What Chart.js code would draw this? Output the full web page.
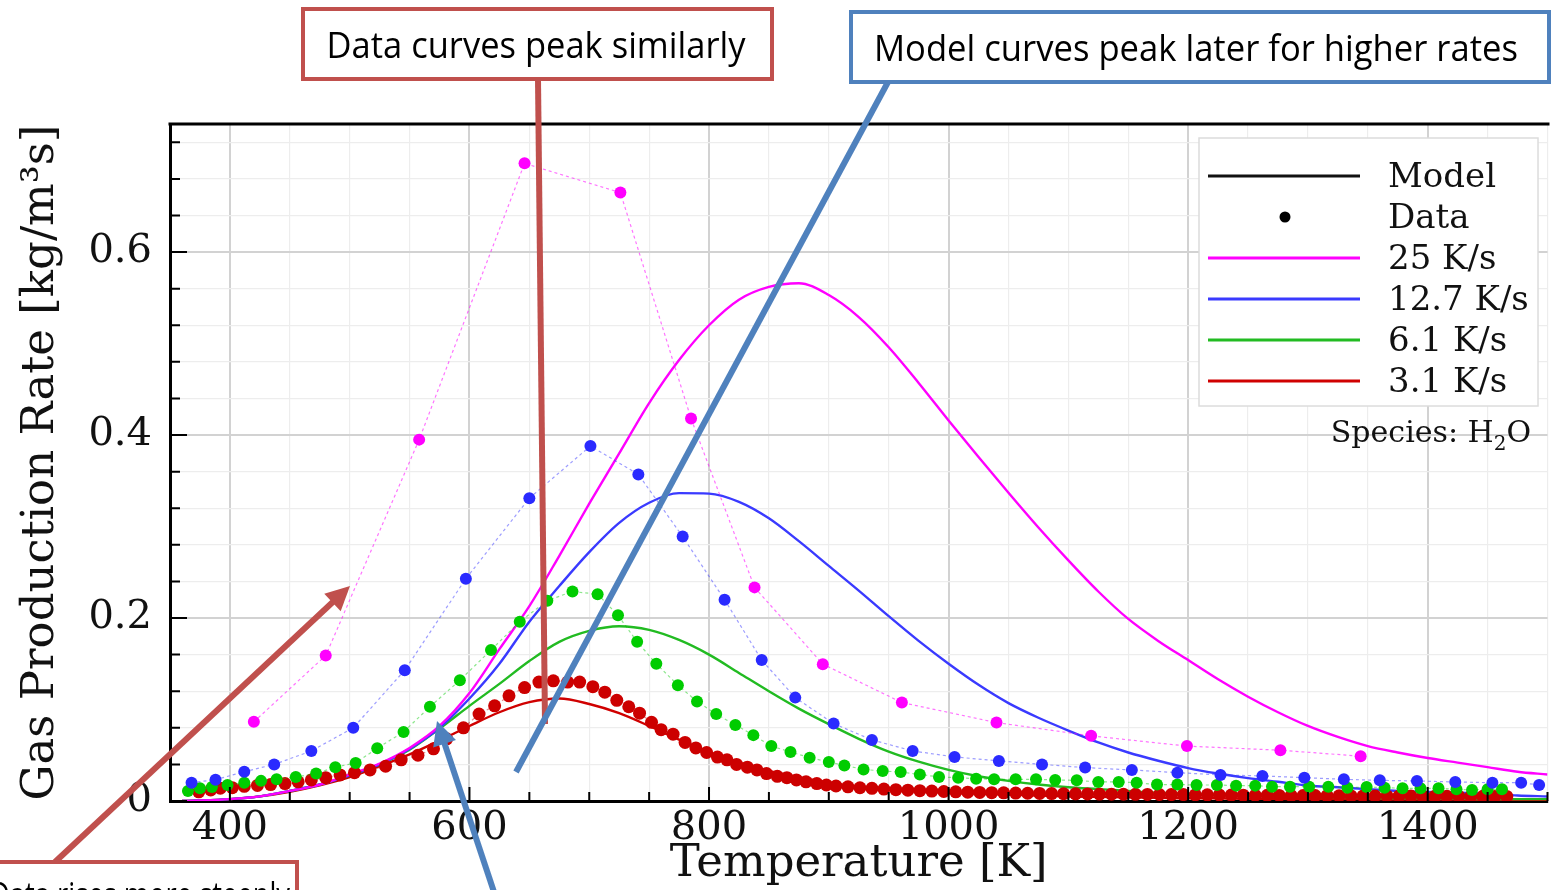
<!DOCTYPE html>
<html>
<head>
<meta charset="utf-8">
<script src="https://cdn.jsdelivr.net/npm/chart.js@4.4.1/dist/chart.umd.min.js"></script>
<style>
  html, body { margin: 0; padding: 0; background: #fff; overflow: hidden; }
  #wrap { position: absolute; left: 0; top: 0; width: 1554px; height: 890px; }
</style>
</head>
<body>
<div id="wrap"><canvas id="chartH2O" width="1554" height="890"></canvas></div>
<script>
// ---- axis ticks ----
const xTicks = [350, 400, 450, 500, 550, 600, 650, 700, 750, 800, 850, 900, 950, 1000,
  1050, 1100, 1150, 1200, 1250, 1300, 1350, 1400, 1450, 1500];
const yTicks = [0, 0.04, 0.08, 0.12, 0.16, 0.2, 0.24, 0.28, 0.32, 0.36, 0.4, 0.44, 0.48,
  0.52, 0.56, 0.6, 0.64, 0.68, 0.72];
const xLabels = { 400: '400', 600: '600', 800: '800', 1000: '1000', 1200: '1200', 1400: '1400' };
const yLabels = ['0', '0.2', '0.4', '0.6'];

// ---- model curves (solid) ----
const modelT = [360, 375, 400, 425, 450, 475, 500, 525, 550, 575, 600, 625, 650, 675, 700, 725,
  750, 775, 800, 825, 850, 875, 900, 925, 950, 975, 1000, 1025, 1050, 1075, 1100, 1125, 1150,
  1175, 1200, 1225, 1250, 1275, 1300, 1325, 1350, 1375, 1400, 1425, 1450, 1475, 1500];
const model25 = [0, 0.0005, 0.002, 0.005, 0.011, 0.018, 0.029, 0.041, 0.058, 0.082, 0.118, 0.166,
  0.213, 0.268, 0.325, 0.380, 0.435, 0.482, 0.520, 0.548, 0.562, 0.566, 0.553, 0.529, 0.496, 0.457,
  0.416, 0.376, 0.337, 0.299, 0.263, 0.229, 0.199, 0.175, 0.154, 0.133, 0.114, 0.097, 0.082, 0.070,
  0.060, 0.053, 0.047, 0.042, 0.037, 0.032, 0.029];
const model12 = [0, 0.0005, 0.002, 0.005, 0.011, 0.018, 0.028, 0.040, 0.057, 0.080, 0.112, 0.150,
  0.196, 0.235, 0.272, 0.304, 0.326, 0.3365, 0.3360, 0.327, 0.309, 0.284, 0.257, 0.230, 0.202, 0.175,
  0.150, 0.127, 0.107, 0.091, 0.077, 0.064, 0.053, 0.044, 0.036, 0.030, 0.025, 0.021, 0.017, 0.015,
  0.013, 0.011, 0.010, 0.009, 0.008, 0.006, 0.005];
const model6 = [0, 0.0005, 0.002, 0.005, 0.011, 0.018, 0.028, 0.040, 0.056, 0.079, 0.104, 0.128,
  0.153, 0.174, 0.186, 0.191, 0.187, 0.176, 0.160, 0.140, 0.120, 0.101, 0.084, 0.068, 0.054, 0.043,
  0.034, 0.027, 0.022, 0.018, 0.015, 0.013, 0.011, 0.009, 0.008, 0.007, 0.006, 0.005, 0.0045, 0.004,
  0.0035, 0.003, 0.003, 0.0025, 0.002, 0.002, 0.002];
const model3 = [0, 0.0005, 0.002, 0.005, 0.010, 0.017, 0.026, 0.038, 0.051, 0.066, 0.082, 0.097,
  0.108, 0.112, 0.106, 0.096, 0.082, 0.067, 0.053, 0.042, 0.033, 0.026, 0.020, 0.016, 0.013, 0.011,
  0.009, 0.008, 0.007, 0.006, 0.005, 0.0045, 0.004, 0.0035, 0.003, 0.003, 0.0025, 0.0025, 0.002,
  0.002, 0.002, 0.0015, 0.0015, 0.0015, 0.001, 0.001, 0.001];

// ---- measured data (dots) ----
const dataT25 = [420, 480, 558, 646, 726, 785, 838, 895, 961, 1040, 1119, 1199, 1277, 1344];
const dataV25 = [0.0865, 0.159, 0.395, 0.697, 0.665, 0.418, 0.2335, 0.1496, 0.1076, 0.0857, 0.0712,
  0.060, 0.0555, 0.049];

const dataT12 = [368, 388, 412, 437, 468, 503, 546, 597, 650, 701, 741, 778, 813, 844, 872, 904,
  936, 970, 1005, 1042, 1078, 1114, 1153, 1191, 1227, 1262, 1297, 1330, 1360, 1391, 1423, 1454,
  1478, 1493];
const dataV12 = [0.020, 0.0233, 0.032, 0.040, 0.0547, 0.080, 0.143, 0.243, 0.331, 0.388, 0.357,
  0.289, 0.220, 0.154, 0.113, 0.0846, 0.0668, 0.0547, 0.0482, 0.0438, 0.040, 0.0365, 0.0339, 0.031,
  0.0285, 0.0274, 0.0255, 0.0237, 0.0226, 0.0219, 0.0208, 0.020, 0.020, 0.0175];

const dataT6 = [365, 375, 385, 398, 412, 426, 439, 455, 472, 488, 505, 523, 545, 567, 592, 618,
  642, 665, 686, 707, 724, 740, 756, 774, 790, 806, 822, 837, 852, 868, 884, 900, 913, 929, 945,
  960, 976, 992, 1008, 1023, 1038, 1056, 1073, 1089, 1107, 1125, 1142, 1157, 1174, 1191, 1207, 1224,
  1240, 1256, 1270, 1285, 1301, 1317, 1333, 1349, 1364, 1379, 1394, 1409, 1424, 1437, 1450, 1462];
const dataV6 = [0.011, 0.014, 0.0153, 0.0175, 0.020, 0.022, 0.0237, 0.0263, 0.030, 0.037, 0.0416,
  0.0577, 0.0755, 0.103, 0.132, 0.165, 0.196, 0.219, 0.229, 0.226, 0.203, 0.174, 0.150, 0.1266,
  0.1087, 0.095, 0.0832, 0.072, 0.060, 0.0536, 0.0474, 0.0427, 0.0389, 0.0345, 0.0328, 0.0317, 0.029,
  0.0263, 0.0255, 0.0244, 0.0237, 0.0237, 0.0237, 0.023, 0.0226, 0.0208, 0.0208, 0.020, 0.018, 0.018,
  0.0175, 0.0175, 0.0168, 0.0168, 0.0157, 0.0157, 0.0157, 0.0157, 0.0146, 0.0153, 0.0146, 0.0139,
  0.0139, 0.0139, 0.0128, 0.012, 0.0128, 0.0128];

const dataT3 = [374, 384, 392, 402, 412, 423, 434, 446, 457, 468, 480, 492, 504, 517, 530, 543,
  557, 570, 581, 595, 608, 621, 633, 646, 658, 670, 682, 692, 703, 713, 723, 733, 742, 752, 760,
  770, 780, 789, 798, 807, 815, 823, 832, 840, 848, 857, 865, 873, 881, 890, 898, 906,
  916, 926, 936, 946, 956, 966, 976, 986, 996, 1006, 1016, 1026, 1036, 1046, 1056, 1066, 1076, 1086,
  1096, 1106, 1116, 1126, 1136, 1146, 1156, 1166, 1176, 1186, 1196, 1206, 1216, 1226, 1236, 1246,
  1256, 1266, 1276, 1286, 1296, 1306, 1316, 1326, 1336, 1346, 1356, 1366, 1376, 1386, 1396, 1406,
  1416, 1426, 1436, 1446, 1456, 1466];
const dataV3 = [0.010, 0.012, 0.014, 0.0146, 0.016, 0.017, 0.018, 0.019, 0.021, 0.023, 0.0255,
  0.0285, 0.031, 0.034, 0.038, 0.045, 0.050, 0.057, 0.068, 0.080, 0.095, 0.104, 0.115, 0.124, 0.130,
  0.1314, 0.130, 0.130, 0.125, 0.119, 0.110, 0.103, 0.096, 0.086, 0.078, 0.073, 0.064, 0.058, 0.053,
  0.048, 0.045, 0.040, 0.037, 0.034, 0.030, 0.027, 0.0255, 0.023, 0.021, 0.019, 0.0175, 0.0164,
  0.0155, 0.0145, 0.0138, 0.013, 0.0124, 0.0118, 0.0113, 0.0108, 0.0104, 0.010, 0.0097, 0.0094,
  0.0091, 0.0089, 0.0087, 0.0085, 0.0083, 0.0081, 0.008, 0.0078, 0.0077, 0.0076, 0.0075, 0.0074,
  0.0073, 0.0072, 0.0071, 0.007, 0.007, 0.0068, 0.0067, 0.0066, 0.0065, 0.0064, 0.0063, 0.0062,
  0.0061, 0.006, 0.006, 0.0059, 0.0058, 0.0057, 0.0056, 0.0056, 0.0055, 0.0055, 0.0054, 0.0054,
  0.0053, 0.0053, 0.0052, 0.0052, 0.0051, 0.0051, 0.005, 0.005];

const seriesNames = ['25 K/s', '12.7 K/s', '6.1 K/s', '3.1 K/s'];
const lineColors = ['#ff00ff', '#3a3aff', '#22bb22', '#d00000'];
const dotColors = ['#ff00ff', '#2a2aff', '#00cc00', '#cc0000'];
const dashColors = ['rgba(255,0,255,0.55)', 'rgba(60,60,255,0.5)', 'rgba(0,200,0,0.45)', 'rgba(204,0,0,0.45)'];

const SERIF = "'DejaVu Serif'";
const RED = '#c0504d';
const BLUE = '#4f81bd';

const pairs = (xs, ys) => xs.map((x, i) => ({ x: x, y: ys[i] }));
const isMajorX = v => v % 200 === 0;
const isMajorY = v => Math.abs(v / 0.2 - Math.round(v / 0.2)) < 1e-6;

// frame top + inward tick marks
const frameTicks = {
  id: 'frameTicks',
  afterDatasetsDraw(chart) {
    const { ctx, chartArea: a, scales: { x, y } } = chart;
    ctx.save();
    ctx.strokeStyle = '#000';
    ctx.lineWidth = 2;
    ctx.beginPath();
    xTicks.forEach(v => {
      const px = x.getPixelForValue(v);
      ctx.moveTo(px, a.bottom);
      ctx.lineTo(px, a.bottom - (isMajorX(v) ? 14 : 9));
    });
    yTicks.forEach(v => {
      const py = y.getPixelForValue(v);
      ctx.moveTo(a.left, py);
      ctx.lineTo(a.left + (isMajorY(v) ? 17 : 10), py);
    });
    ctx.stroke();
    ctx.lineWidth = 3;
    ctx.beginPath();
    ctx.moveTo(a.left - 1.5, a.top);
    ctx.lineTo(a.right + 2, a.top);
    ctx.stroke();
    ctx.restore();
  }
};

// legend box in the upper right
const boxLegend = {
  id: 'boxLegend',
  afterDatasetsDraw(chart) {
    const ctx = chart.ctx;
    ctx.save();
    ctx.fillStyle = '#fff';
    ctx.strokeStyle = '#dcdcdc';
    ctx.lineWidth = 1.5;
    ctx.fillRect(1199, 138, 339, 268);
    ctx.strokeRect(1199, 138, 339, 268);

    const rows = ['Model', 'Data'].concat(seriesNames);
    const colors = ['#111', '#111'].concat(lineColors);
    ctx.font = '34px ' + SERIF;
    ctx.textBaseline = 'middle';
    ctx.textAlign = 'left';
    rows.forEach((t, i) => {
      const ry = 176 + i * 41;
      if (i === 1) {
        ctx.fillStyle = '#000';
        ctx.beginPath();
        ctx.arc(1285, ry, 5.5, 0, Math.PI * 2);
        ctx.fill();
      } else {
        ctx.strokeStyle = colors[i];
        ctx.lineWidth = 3;
        ctx.beginPath();
        ctx.moveTo(1208, ry);
        ctx.lineTo(1360, ry);
        ctx.stroke();
      }
      ctx.fillStyle = '#111';
      ctx.fillText(t, 1388, ry + 2);
    });

    // Species: H2O with subscript
    ctx.textBaseline = 'alphabetic';
    const big = '30px ' + SERIF, small = '20px ' + SERIF;
    ctx.font = big;
    const w1 = ctx.measureText('Species: H').width;
    const w3 = ctx.measureText('O').width;
    ctx.font = small;
    const w2 = ctx.measureText('2').width;
    let sx = 1531 - (w1 + w2 + w3);
    ctx.font = big;
    ctx.fillText('Species: H', sx, 442);
    ctx.font = small;
    ctx.fillText('2', sx + w1, 450);
    ctx.font = big;
    ctx.fillText('O', sx + w1 + w2, 442);
    ctx.restore();
  }
};

// slide callouts drawn over the plot
function calloutText(ctx, text, cx, baseline, width) {
  ctx.font = "36px 'Open Sans'";
  const w = ctx.measureText(text).width;
  ctx.save();
  ctx.translate(cx, baseline);
  ctx.scale(width / w, 1);
  ctx.textAlign = 'center';
  ctx.textBaseline = 'alphabetic';
  ctx.fillStyle = '#000';
  ctx.fillText(text, 0, 0);
  ctx.restore();
}
function arrowLine(ctx, x0, y0, x1, y1, color, head) {
  const ang = Math.atan2(y1 - y0, x1 - x0);
  ctx.strokeStyle = color;
  ctx.fillStyle = color;
  ctx.lineWidth = 6;
  ctx.beginPath();
  ctx.moveTo(x0, y0);
  ctx.lineTo(x1 - (head ? Math.cos(ang) * 14 : 0), y1 - (head ? Math.sin(ang) * 14 : 0));
  ctx.stroke();
  if (head) {
    ctx.beginPath();
    ctx.moveTo(x1, y1);
    ctx.lineTo(x1 - Math.cos(ang) * 24 + Math.sin(ang) * 12, y1 - Math.sin(ang) * 24 - Math.cos(ang) * 12);
    ctx.lineTo(x1 - Math.cos(ang) * 24 - Math.sin(ang) * 12, y1 - Math.sin(ang) * 24 + Math.cos(ang) * 12);
    ctx.closePath();
    ctx.fill();
  }
}
const callouts = {
  id: 'callouts',
  afterDraw(chart) {
    const ctx = chart.ctx;
    ctx.save();
    ctx.lineCap = 'butt';
    arrowLine(ctx, 538, 79, 545, 724, RED, false);
    arrowLine(ctx, 888, 82, 516, 772, BLUE, false);
    arrowLine(ctx, 55, 862, 350, 586, RED, true);
    arrowLine(ctx, 494, 892, 437, 721, BLUE, true);

    ctx.lineWidth = 4;
    ctx.fillStyle = '#fff';
    ctx.strokeStyle = RED;
    ctx.fillRect(303, 9, 469, 70);
    ctx.strokeRect(303, 9, 469, 70);
    calloutText(ctx, 'Data curves peak similarly', 536, 58, 419);

    ctx.fillStyle = '#fff';
    ctx.strokeStyle = BLUE;
    ctx.fillRect(851, 12, 698, 70);
    ctx.strokeRect(851, 12, 698, 70);
    calloutText(ctx, 'Model curves peak later for higher rates', 1196, 61, 644);

    ctx.fillStyle = '#fff';
    ctx.strokeStyle = RED;
    ctx.fillRect(-20, 862, 317, 60);
    ctx.strokeRect(-20, 862, 317, 60);
    calloutText(ctx, 'Data rises more steeply', 140, 908, 300);
    ctx.restore();
  }
};

const datasets = [];
const dataT = [dataT25, dataT12, dataT6, dataT3];
const dataV = [dataV25, dataV12, dataV6, dataV3];
const models = [model25, model12, model6, model3];
seriesNames.forEach((name, i) => {
  datasets.push({
    label: name + ' data',
    data: pairs(dataT[i], dataV[i]),
    showLine: true,
    borderColor: dashColors[i],
    borderWidth: 1.2,
    borderDash: [3, 3],
    pointRadius: i === 3 ? 6.5 : 6,
    pointBackgroundColor: dotColors[i],
    pointBorderWidth: 0,
    order: 0
  });
});
seriesNames.forEach((name, i) => {
  datasets.push({
    label: name + ' model',
    data: pairs(modelT, models[i]),
    borderColor: lineColors[i],
    borderWidth: 2.4,
    pointRadius: 0,
    cubicInterpolationMode: 'monotone',
    order: 1
  });
});

Chart.defaults.font.family = SERIF;
Chart.defaults.color = '#111';

new Chart(document.getElementById('chartH2O').getContext('2d'), {
  type: 'line',
  data: { datasets: datasets },
  options: {
    responsive: false,
    animation: false,
    devicePixelRatio: 1,
    layout: { padding: { top: 124, right: 0, left: 0, bottom: 0 } },
    plugins: { legend: { display: false }, tooltip: { enabled: false } },
    scales: {
      x: {
        type: 'linear',
        min: 350,
        max: 1500,
        afterBuildTicks: s => { s.ticks = xTicks.map(v => ({ value: v })); },
        afterFit: s => { s.height = 89; },
        ticks: {
          autoSkip: false,
          maxRotation: 0,
          padding: 4,
          font: { size: 40 },
          color: '#111',
          callback: v => xLabels[v] || ''
        },
        grid: {
          drawTicks: false,
          color: c => isMajorX(c.tick.value) ? '#d2d2d2' : '#ededed',
          lineWidth: c => isMajorX(c.tick.value) ? 2 : 1.2
        },
        border: { display: true, color: '#000', width: 3 },
        title: {
          display: true,
          text: 'Temperature [K]',
          color: '#111',
          font: { size: 45, lineHeight: 1 },
          padding: { top: 0, bottom: 3 }
        }
      },
      y: {
        min: 0,
        max: 0.74,
        afterBuildTicks: s => { s.ticks = yTicks.map(v => ({ value: v })); },
        afterFit: s => { s.width = 170; },
        ticks: {
          autoSkip: false,
          padding: 18,
          font: { size: 40 },
          color: '#111',
          callback: v => isMajorY(v) ? yLabels[Math.round(v / 0.2)] : ''
        },
        grid: {
          drawTicks: false,
          color: c => isMajorY(c.tick.value) ? '#d2d2d2' : '#ededed',
          lineWidth: c => isMajorY(c.tick.value) ? 2 : 1.2
        },
        border: { display: true, color: '#000', width: 3 },
        title: {
          display: true,
          text: 'Gas Production Rate [kg/m³s]',
          color: '#111',
          font: { size: 45, lineHeight: 1 },
          padding: { top: 19, bottom: 0 }
        }
      }
    }
  },
  plugins: [frameTicks, boxLegend, callouts]
});
</script>
</body>
</html>
